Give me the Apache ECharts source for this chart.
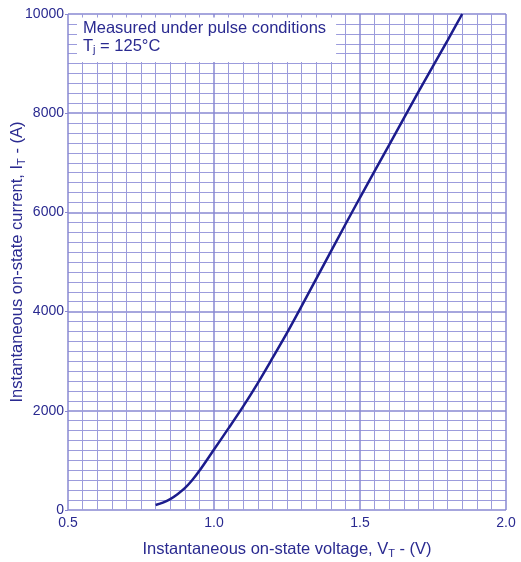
<!DOCTYPE html>
<html>
<head>
<meta charset="utf-8">
<script src="https://cdn.jsdelivr.net/npm/echarts@6/dist/echarts.min.js"></script>
<style>html,body{margin:0;padding:0;background:#fff;}#c{width:521px;height:562px;}</style>
</head>
<body>
<div id="c"></div>
<script>
var voltage = [0.80, 0.825, 0.85, 0.875, 0.90, 0.925, 0.95, 1.00, 1.05, 1.10, 1.15, 1.20, 1.25, 1.30, 1.40, 1.50, 1.60, 1.70, 1.80, 1.85];
var current = [100, 150, 220, 320, 440, 600, 790, 1220, 1650, 2090, 2560, 3060, 3570, 4110, 5210, 6300, 7360, 8430, 9470, 10000];
var xTickLabels = ['0.5', '1.0', '1.5', '2.0'];
var yTickLabels = ['0', '2000', '4000', '6000', '8000', '10000'];

var txt = '#2a2a90';
var font = '"Liberation Sans", Arial, sans-serif';
var pts = voltage.map(function (v, i) { return [v, current[i]]; });
var nameRich = {
  n: {fontSize: 16.5, color: txt, fontFamily: font, fontWeight: 'normal', lineHeight: 20, verticalAlign: 'middle'},
  s: {fontSize: 11, color: txt, fontFamily: font, fontWeight: 'normal', lineHeight: 11, verticalAlign: 'bottom'}
};

var chart = echarts.init(document.getElementById('c'), null, {renderer: 'canvas'});
chart.setOption({
  animation: false,
  textStyle: {fontFamily: font},
  grid: {left: 68, top: 14, right: 15, bottom: 52, containLabel: false, outerBoundsMode: 'none'},
  title: {
    left: 77, top: 17,
    backgroundColor: '#ffffff',
    padding: [2, 10, 7, 6],
    text: '{n|Measured under pulse conditions}\n{n|T}{s|j}{n| = 125°C}',
    textStyle: {
      fontWeight: 'normal',
      rich: {
        n: {fontSize: 16.5, color: txt, fontFamily: font, fontWeight: 'normal', lineHeight: 18, verticalAlign: 'middle'},
        s: {fontSize: 11, color: txt, fontFamily: font, fontWeight: 'normal', lineHeight: 11, verticalAlign: 'bottom'}
      }
    }
  },
  xAxis: {
    type: 'value', min: 0.5, max: 2.0, interval: 0.5,
    axisLine: {show: false}, axisTick: {show: false},
    axisLabel: {color: txt, fontSize: 14, fontFamily: font, margin: 6,
      formatter: function (v) { var i = Math.round((v - 0.5) / 0.5); return xTickLabels[i]; }},
    splitLine: {show: true, lineStyle: {color: '#8888d2', width: 1.5}},
    minorTick: {show: false, splitNumber: 10},
    minorSplitLine: {show: true, lineStyle: {color: '#9c9cdc', width: 1}},
    name: '{n|Instantaneous on-state voltage, V}{s|T}{n| - (V)}',
    nameLocation: 'middle', nameGap: 29, nameMoveOverlap: false,
    nameTextStyle: {rich: nameRich}
  },
  yAxis: {
    type: 'value', min: 0, max: 10000, interval: 2000,
    axisLine: {show: false},
    axisTick: {show: true, length: 3, lineStyle: {color: '#8888d2'}},
    axisLabel: {color: txt, fontSize: 14, fontFamily: font, margin: 4,
      formatter: function (v) { return yTickLabels[Math.round(v / 2000)]; }},
    splitLine: {show: true, lineStyle: {color: '#8888d2', width: 1.5}},
    minorTick: {show: false, splitNumber: 10},
    minorSplitLine: {show: true, lineStyle: {color: '#9c9cdc', width: 1}},
    name: '{n|Instantaneous on-state current, I}{s|T}{n| - (A)}',
    nameLocation: 'middle', nameGap: 41, nameRotate: 90, nameMoveOverlap: false,
    nameTextStyle: {rich: nameRich}
  },
  series: [{
    type: 'line', data: pts, smooth: 0.3, symbol: 'none',
    lineStyle: {color: '#1c1c8c', width: 2.5}, z: 3
  }]
});
</script>
</body>
</html>
